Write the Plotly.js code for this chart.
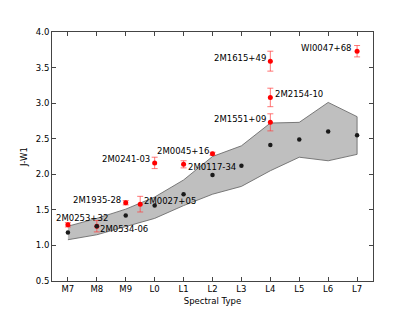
<!DOCTYPE html>
<html><head><meta charset="utf-8">
<script src="https://cdn.plot.ly/plotly-3.0.1.min.js"></script>
<style>html,body{margin:0;padding:0;background:#fff}</style>
</head><body>
<div id="chart" style="width:415px;height:312px"></div>
<script>
// Spectral type tick labels (index 0 = M7)
var sptLabels = ["M7","M8","M9","L0","L1","L2","L3","L4","L5","L6","L7"];
var sptIndex = [0,1,2,3,4,5,6,7,8,9,10];

// Field median J-W1 and envelope
var medianJW1 = [1.18,1.27,1.42,1.56,1.72,1.99,2.12,2.41,2.49,2.60,2.55];
var upperJW1  = [1.27,1.38,1.51,1.68,1.92,2.25,2.40,2.72,2.73,3.01,2.81];
var lowerJW1  = [1.08,1.15,1.26,1.38,1.56,1.72,1.83,2.05,2.24,2.19,2.28];

// Young objects
var objNames = ["2M0253+32","2M0534-06","2M1935-28","2M0027+05","2M0241-03","2M0117-34","2M0045+16","2M1551+09","2M2154-10","2M1615+49","WI0047+68"];
var objSpt   = [0,1,2,2.5,3,4,5,7,7,7,10];
var objJW1   = [1.29,1.27,1.60,1.58,2.16,2.14,2.29,2.73,3.08,3.59,3.73];
var objErr   = [0.03,0.08,0.03,0.11,0.08,0.05,0.02,0.12,0.13,0.14,0.08];

// label placement (pixel offsets)
var labelPlace = [
  {a:"left", dx:-14, dy:7},
  {a:"left", dx:1.5, dy:-3},
  {a:"right", dx:-3, dy:3},
  {a:"left", dx:2, dy:3},
  {a:"right", dx:-3, dy:3.5},
  {a:"left", dx:2, dy:-3},
  {a:"right", dx:-2, dy:3},
  {a:"right", dx:-2, dy:3},
  {a:"left", dx:2.5, dy:3},
  {a:"right", dx:-2, dy:3},
  {a:"right", dx:-4, dy:3}
];

var FONT = "DejaVu Sans, sans-serif";

var polyX = sptIndex.concat(sptIndex.slice().reverse());
var polyY = upperJW1.concat(lowerJW1.slice().reverse());

var traces = [
  {x: polyX, y: polyY, type:"scatter", mode:"lines", fill:"toself",
   fillcolor:"rgba(128,128,128,0.5)", line:{color:"rgba(110,110,110,0.9)", width:1},
   hoverinfo:"skip", showlegend:false},
  {x: objSpt, y: objJW1, type:"scatter", mode:"markers",
   marker:{color:"#ff0000", size:5},
   error_y:{type:"data", array:objErr, visible:true, color:"rgba(255,60,60,0.7)", thickness:1, width:3},
   showlegend:false},
  {x: sptIndex, y: medianJW1, type:"scatter", mode:"markers",
   marker:{color:"#1a1a1a", size:4.5}, showlegend:false}
];

var annotations = objNames.map(function(n,i){
  var p = labelPlace[i];
  return {x: objSpt[i], y: objJW1[i], xref:"x", yref:"y", text:n, showarrow:false,
    xanchor:p.a, yanchor:"middle", xshift:p.dx, yshift:p.dy,
    font:{family:FONT, size:8.5, color:"#000"}};
});

var axisCommon = {showline:true, linecolor:"#444", linewidth:1, mirror:"ticks",
  ticks:"inside", ticklen:4, tickcolor:"#444", tickwidth:1, showgrid:false, zeroline:false,
  tickfont:{family:FONT, size:8.5, color:"#000"}};

var layout = {
  width:415, height:312,
  margin:{l:52, r:42, t:32, b:31},
  paper_bgcolor:"#fff", plot_bgcolor:"#fff",
  xaxis: Object.assign({}, axisCommon, {range:[-0.55,10.55], tickvals:sptIndex, ticktext:sptLabels,
    title:{text:"Spectral Type", font:{family:FONT, size:8.5, color:"#000"}, standoff:4}}),
  yaxis: Object.assign({}, axisCommon, {range:[0.5,4.0], dtick:0.5, tick0:0.5, tickformat:".1f",
    title:{text:"J-W1", font:{family:FONT, size:8.5, color:"#000"}, standoff:6}}),
  annotations: annotations,
  showlegend:false
};

Plotly.newPlot("chart", traces, layout, {staticPlot:true, displayModeBar:false});
</script>
</body></html>
